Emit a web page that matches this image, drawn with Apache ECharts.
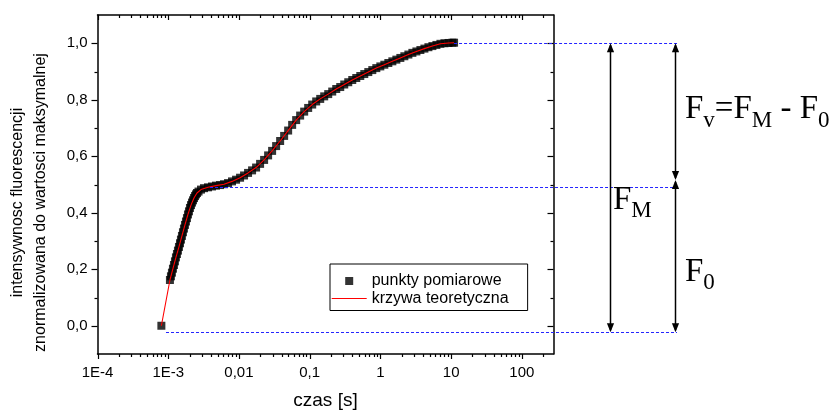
<!DOCTYPE html>
<html><head><meta charset="utf-8">
<script src="https://cdn.jsdelivr.net/npm/echarts@6/dist/echarts.min.js"></script>
<style>html,body{margin:0;padding:0;background:#fff}#c{width:832px;height:410px}</style>
</head><body><div id="c"></div>
<script>
// ---- data ----
const measTime = [0.0008, 0.001057, 0.001092, 0.001128, 0.001166, 0.001205, 0.001244, 0.001285, 0.001328, 0.001372, 0.001418, 0.001466, 0.001513, 0.001563, 0.001615, 0.001668, 0.001724, 0.001781, 0.00184, 0.001901, 0.001964, 0.002029, 0.002097, 0.002167, 0.002238, 0.002312, 0.002389, 0.002468, 0.00255, 0.002679, 0.002904, 0.003205, 0.00365, 0.004158, 0.00474, 0.0054, 0.00615, 0.00701, 0.00798, 0.0091, 0.01037, 0.01181, 0.01345, 0.01533, 0.01747, 0.0199, 0.02268, 0.02584, 0.02943, 0.03354, 0.03822, 0.04354, 0.0496, 0.0565, 0.0644, 0.0733, 0.0836, 0.0952, 0.1085, 0.1236, 0.1409, 0.1604, 0.1828, 0.2083, 0.2373, 0.2704, 0.3081, 0.351, 0.3999, 0.4557, 0.5192, 0.5916, 0.674, 0.768, 0.875, 0.997, 1.136, 1.294, 1.475, 1.68, 1.914, 2.181, 2.485, 2.831, 3.226, 3.675, 4.187, 4.77, 5.435, 6.19, 7.05, 8.04, 9.16, 10.43, 11.0];
const measValue = [0.0, 0.162, 0.175, 0.188, 0.202, 0.215, 0.228, 0.242, 0.254, 0.266, 0.279, 0.292, 0.305, 0.318, 0.331, 0.344, 0.357, 0.369, 0.381, 0.394, 0.405, 0.417, 0.427, 0.436, 0.444, 0.452, 0.459, 0.465, 0.470, 0.475, 0.482, 0.487, 0.490, 0.493, 0.496, 0.498, 0.501, 0.505, 0.511, 0.517, 0.524, 0.532, 0.541, 0.550, 0.560, 0.573, 0.587, 0.603, 0.619, 0.636, 0.654, 0.672, 0.691, 0.711, 0.728, 0.744, 0.758, 0.771, 0.783, 0.794, 0.803, 0.812, 0.820, 0.829, 0.838, 0.845, 0.854, 0.862, 0.870, 0.877, 0.884, 0.891, 0.898, 0.905, 0.912, 0.918, 0.924, 0.930, 0.936, 0.942, 0.948, 0.954, 0.960, 0.966, 0.971, 0.976, 0.981, 0.986, 0.990, 0.994, 0.998, 1.000, 1.001, 1.002, 1.002];

const fitTime = [0.0008, 0.001057, 0.001166, 0.001285, 0.001418, 0.001563, 0.001724, 0.001901, 0.002097, 0.002312, 0.00255, 0.002904, 0.00365, 0.00474, 0.00615, 0.00798, 0.01037, 0.01345, 0.01747, 0.02268, 0.02943, 0.03822, 0.0496, 0.0644, 0.0836, 0.1085, 0.1409, 0.1828, 0.2373, 0.3081, 0.3999, 0.5192, 0.674, 0.875, 1.136, 1.475, 1.914, 2.485, 3.226, 4.187, 5.435, 7.05, 9.16, 11.0];
const fitValue = [0.0, 0.162, 0.202, 0.242, 0.279, 0.318, 0.357, 0.394, 0.427, 0.452, 0.470, 0.482, 0.490, 0.496, 0.501, 0.511, 0.524, 0.541, 0.560, 0.587, 0.619, 0.654, 0.691, 0.728, 0.758, 0.783, 0.803, 0.820, 0.838, 0.854, 0.870, 0.884, 0.898, 0.912, 0.924, 0.936, 0.948, 0.960, 0.971, 0.981, 0.990, 0.998, 1.001, 1.002];

const xTickValues = [1e-4, 1e-3, 0.01, 0.1, 1, 10, 100];
const xTickLabels = ['1E-4', '1E-3', '0,01', '0,1', '1', '10', '100'];
const xMinorTickValues = [2e-4, 3e-4, 4e-4, 5e-4, 6e-4, 7e-4, 8e-4, 9e-4,
  2e-3, 3e-3, 4e-3, 5e-3, 6e-3, 7e-3, 8e-3, 9e-3,
  0.02, 0.03, 0.04, 0.05, 0.06, 0.07, 0.08, 0.09,
  0.2, 0.3, 0.4, 0.5, 0.6, 0.7, 0.8, 0.9,
  2, 3, 4, 5, 6, 7, 8, 9,
  20, 30, 40, 50, 60, 70, 80, 90, 200];
const yTickValues = [0, 0.2, 0.4, 0.6, 0.8, 1.0];
const yTickLabels = ['0,0', '0,2', '0,4', '0,6', '0,8', '1,0'];
const yMinorTickValues = [0.1, 0.3, 0.5, 0.7, 0.9];

const seriesNames = ['punkty pomiarowe', 'krzywa teoretyczna'];
const xAxisTitle = 'czas [s]';
const yAxisTitle = 'intensywnosc fluorescencji\nznormalizowana do wartosci maksymalnej';

// reference levels (value, time where the dashed line starts)
const fmLevel = 1.0, fmFromTime = 11.0;
const f0Level = 0.49, f0FromTime = 0.0039;
const baseLevel = -0.023, baseFromTime = 0.00093;
const splitLevel = 0.516;

// ---- build chart ----
const measData = measTime.map((t, i) => [t, measValue[i]]);
const fitData = fitTime.map((t, i) => [t, fitValue[i]]);
const tickData = [];
xTickValues.forEach(v => tickData.push([v, 0.5, 1]));
xMinorTickValues.forEach(v => tickData.push([v, 0.5, 2]));
yTickValues.forEach(v => tickData.push([1, v, 4]));
yMinorTickValues.forEach(v => tickData.push([1, v, 3]));

const SANS = '"Liberation Sans", Arial, sans-serif';
const BLACK = '#000';

function xLabel(v) {
  const lv = Math.log10(v);
  for (let i = 0; i < xTickValues.length; i++) {
    if (Math.abs(Math.log10(xTickValues[i]) - lv) < 1e-6) return xTickLabels[i];
  }
  return '';
}
function yLabel(v) {
  for (let i = 0; i < yTickValues.length; i++) {
    if (Math.abs(yTickValues[i] - v) < 1e-6) return yTickLabels[i];
  }
  return '';
}

function renderTicks(params, api) {
  const cs = params.coordSys;
  const p = api.coord([api.value(0), api.value(1)]);
  const kind = api.value(2);
  const st = { stroke: BLACK, lineWidth: 1.2 };
  if (kind === 3 || kind === 4) {
    const len = kind === 4 ? 6 : 3;
    const y = Math.round(p[1]) + 0.5;
    return { type: 'group', children: [
      { type: 'line', shape: { x1: cs.x - len, y1: y, x2: cs.x, y2: y }, style: st },
      { type: 'line', shape: { x1: cs.x + cs.width - len, y1: y, x2: cs.x + cs.width, y2: y }, style: st }
    ]};
  }
  const len = kind === 1 ? 5 : 3;
  const x = Math.round(p[0]) + 0.5;
  return { type: 'group', children: [
    { type: 'line', shape: { x1: x, y1: cs.y + cs.height, x2: x, y2: cs.y + cs.height + len }, style: st },
    { type: 'line', shape: { x1: x, y1: cs.y, x2: x, y2: cs.y + len }, style: st }
  ]};
}

const axisLineStyle = { color: BLACK, width: 1.5 };
const chart = echarts.init(document.getElementById('c'), null, { renderer: 'canvas' });
chart.setOption({
  animation: false,
  backgroundColor: '#fff',
  tooltip: { show: false },
  grid: { left: 97.5, top: 15, width: 456, height: 339, show: false, containLabel: false, outerBoundsMode: 'none' },
  legend: {
    left: 330, top: 264, orient: 'vertical',
    itemWidth: 35, itemHeight: 8, itemGap: 1.5,
    padding: [9, 19, 4, 1.7],
    borderColor: BLACK, borderWidth: 1, backgroundColor: '#fff',
    symbolKeepAspect: true,
    textStyle: { fontSize: 16, fontFamily: SANS, color: BLACK },
    data: [
      { name: seriesNames[0], icon: 'path://M0,0h1v1h-1z' },
      { name: seriesNames[1], icon: 'path://M0,0h35v1h-35z' }
    ]
  },
  xAxis: [
    {
      type: 'log', logBase: 10, min: 1e-4, max: 280, position: 'bottom', gridIndex: 0,
      axisLine: { show: true, onZero: false, lineStyle: axisLineStyle },
      axisTick: { show: false }, minorTick: { show: false },
      splitLine: { show: false }, minorSplitLine: { show: false },
      axisLabel: { formatter: xLabel, fontSize: 15, color: BLACK, fontFamily: SANS, margin: 11, hideOverlap: false },
      name: xAxisTitle, nameLocation: 'middle', nameGap: 37,
      nameTextStyle: { fontSize: 19, fontFamily: SANS, color: BLACK }
    },
    {
      type: 'log', logBase: 10, min: 1e-4, max: 280, position: 'top', gridIndex: 0,
      axisLine: { show: true, onZero: false, lineStyle: axisLineStyle },
      axisTick: { show: false }, minorTick: { show: false },
      splitLine: { show: false }, axisLabel: { show: false }
    }
  ],
  yAxis: [
    {
      type: 'value', min: -0.1, max: 1.1, interval: 0.1, position: 'left',
      axisLine: { show: true, onZero: false, lineStyle: axisLineStyle },
      axisTick: { show: false }, splitLine: { show: false },
      axisLabel: { formatter: yLabel, fontSize: 15, color: BLACK, fontFamily: SANS, margin: 10 },
      name: yAxisTitle, nameLocation: 'middle', nameGap: 45.5,
      nameTextStyle: { fontSize: 16, fontFamily: SANS, color: BLACK, lineHeight: 23, padding: [0, 36, 0, 0] }
    },
    {
      type: 'value', min: -0.1, max: 1.1, interval: 0.1, position: 'right',
      axisLine: { show: true, onZero: false, lineStyle: axisLineStyle },
      axisTick: { show: false }, splitLine: { show: false }, axisLabel: { show: false }
    }
  ],
  series: [
    {
      name: seriesNames[0], type: 'scatter', data: measData,
      symbol: 'rect', symbolSize: 8, itemStyle: { color: '#000' }, z: 3, silent: true
    },
    {
      name: seriesNames[1], type: 'line', data: fitData, showSymbol: false, symbol: 'none',
      lineStyle: { color: '#ff0000', width: 1.1 }, itemStyle: { color: '#ff0000' }, z: 4, silent: true
    },
    {
      type: 'custom', data: tickData, renderItem: renderTicks, clip: false, silent: true, z: 5,
      encode: { x: 0, y: 1 }
    }
  ]
});

// ---- annotations (vertical positions taken from the y axis) ----
const yPx = v => chart.convertToPixel({ yAxisIndex: 0 }, v);
const xPx = v => chart.convertToPixel({ xAxisIndex: 0 }, v);
const lineEndX = 677;
const arrowFmX = 610.5, arrowRX = 675.5;
const BLUE = '#2424ff';
const g = [];
[[fmLevel, fmFromTime], [f0Level, f0FromTime], [baseLevel, baseFromTime]].forEach(([lv, t], i) => {
  const y = Math.round(yPx(lv)) + 0.5;
  g.push({ type: 'line', id: 'ref' + i, z: 100, silent: true,
    shape: { x1: xPx(t), y1: y, x2: lineEndX, y2: y },
    style: { stroke: BLUE, lineWidth: 1, lineDash: [3, 2] } });
});
function arrow(x, yTop, yBot) {
  const hw = 3.6, hl = 9;
  g.push({ type: 'line', z: 100, shape: { x1: x, y1: yTop + 2, x2: x, y2: yBot - 2 }, style: { stroke: BLACK, lineWidth: 1.5 } });
  g.push({ type: 'polygon', z: 100, shape: { points: [[x, yTop], [x - hw, yTop + hl], [x + hw, yTop + hl]] }, style: { fill: BLACK } });
  g.push({ type: 'polygon', z: 100, shape: { points: [[x, yBot], [x - hw, yBot - hl], [x + hw, yBot - hl]] }, style: { fill: BLACK } });
}
arrow(arrowFmX, yPx(fmLevel), yPx(baseLevel));
arrow(arrowRX, yPx(fmLevel), yPx(splitLevel));
arrow(arrowRX, yPx(splitLevel), yPx(baseLevel));

const cv = document.createElement('canvas').getContext('2d');
const SERIF = '"Liberation Serif", "Times New Roman", serif';
const MAIN = 33, SUB = 23, SUBDY = 8;
function formula(x, baseline, parts) {
  let cx = x;
  parts.forEach(p => {
    const size = p.sub ? SUB : MAIN;
    const font = size + 'px ' + SERIF;
    cv.font = font;
    const w = cv.measureText(p.t).width;
    const by = baseline + (p.sub ? SUBDY : 0);
    g.push({ type: 'text', z: 100, x: cx, y: by - 0.3 * size,
      style: { text: p.t, font: font, fill: BLACK, align: 'left', verticalAlign: 'middle' } });
    cx += w;
  });
}
formula(685, 119.5, [{ t: 'F' }, { t: 'v', sub: true }, { t: '=F' }, { t: 'M', sub: true }, { t: ' - F' }, { t: '0', sub: true }]);
formula(613, 210, [{ t: 'F' }, { t: 'M', sub: true }]);
formula(685, 282, [{ t: 'F' }, { t: '0', sub: true }]);

chart.setOption({ graphic: { elements: g } });
</script>
</body></html>
